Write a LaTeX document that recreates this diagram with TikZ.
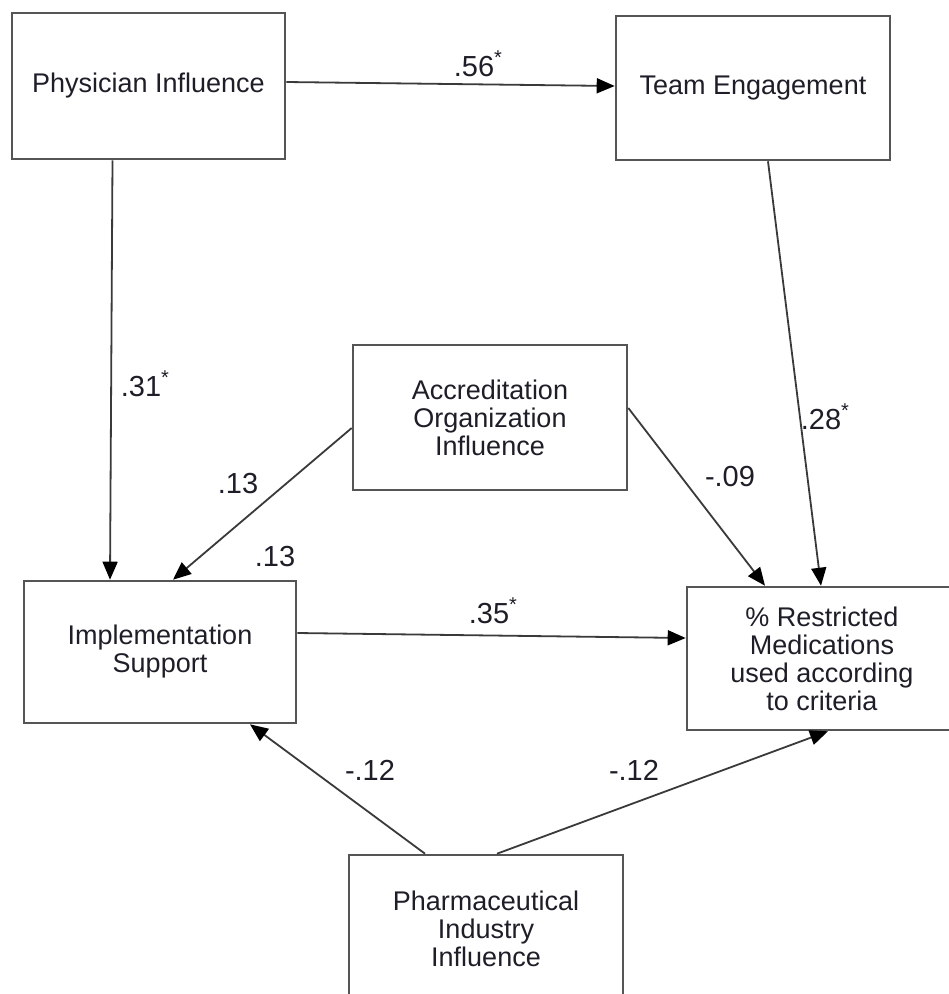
\documentclass[tikz,border=0pt]{standalone}
\usepackage{fontspec}
\setmainfont{Liberation Sans}
\usetikzlibrary{arrows.meta}
\definecolor{edge}{HTML}{555555}
\definecolor{wire}{HTML}{3A3A3A}
\definecolor{ink}{HTML}{1E1E28}
% significance mark set beside a coefficient
\newcommand{\sigmark}{\rlap{\raisebox{0.42em}{\fontsize{20}{20}\selectfont *}}}
\begin{document}
\begin{tikzpicture}[x=1pt,y=-1pt,
  box/.style={draw=edge,line width=2.6pt,fill=white,align=center,text=ink,
    inner sep=0pt,font=\fontsize{27}{28}\selectfont},
  arr/.style={draw=wire,line width=1.8pt,
    -{Triangle[length=18pt,width=15pt,color=black]}},
  coef/.style={text=ink,inner sep=0pt,font=\fontsize{29}{30}\selectfont}]
\useasboundingbox (0,0) rectangle (949,994);
\clip (0,0) rectangle (949,994);
\fill[white] (0,0) rectangle (949,994);

% variables
\node[box,minimum width=273pt,minimum height=146pt] (phys) at (148.5,86) {Physician Influence};
\node[box,minimum width=274pt,minimum height=144pt] (team) at (753,88) {Team Engagement};
\node[box,minimum width=274pt,minimum height=145pt] (accr) at (490,417.5) {Accreditation\\Organization\\Influence};
\node[box,minimum width=272pt,minimum height=142pt] (impl) at (160,652) {Implementation\\Support};
\node[box,minimum width=270pt,minimum height=143pt] (restr) at (822,658.5) {\% Restricted\\Medications\\used according\\to criteria};
\node[box,minimum width=274pt,minimum height=148pt] (pharm) at (486,929) {Pharmaceutical\\Industry\\Influence};

% paths
\draw[arr] ([yshift=4pt]phys.east) -- ([yshift=2pt]team.west);
\draw[arr] ([xshift=-36pt]phys.south) -- ([xshift=-50pt]impl.north);
\draw[arr] ([yshift=-10.5pt]accr.west) -- ([xshift=13pt]impl.north);
\draw[arr] ([yshift=9.5pt]accr.east) -- ([xshift=-57pt]restr.north);
\draw[arr] ([xshift=15pt]team.south) -- ([xshift=-1pt]restr.north);
\draw[arr] ([yshift=19pt]impl.east) -- ([yshift=20.5pt]restr.west);
\draw[arr] ([xshift=-61pt]pharm.north) -- ([xshift=90pt]impl.south);
\draw[arr] ([xshift=11pt]pharm.north) -- ([xshift=6pt]restr.south);

% path coefficients
\node[coef] (c1) at (474,64) {.56\sigmark};
\node[coef] (c2) at (141,384) {.31\sigmark};
\node[coef] (c3) at (821,417) {.28\sigmark};
\node[coef] (c4) at (489,611) {.35\sigmark};
\node[coef] (c5) at (238,484) {.13};
\node[coef] (c6) at (275,557) {.13};
\node[coef] (c7) at (730,477) {-.09};
\node[coef] (c8) at (370,770) {-.12};
\node[coef] (c9) at (634,770) {-.12};
\end{tikzpicture}
\end{document}
